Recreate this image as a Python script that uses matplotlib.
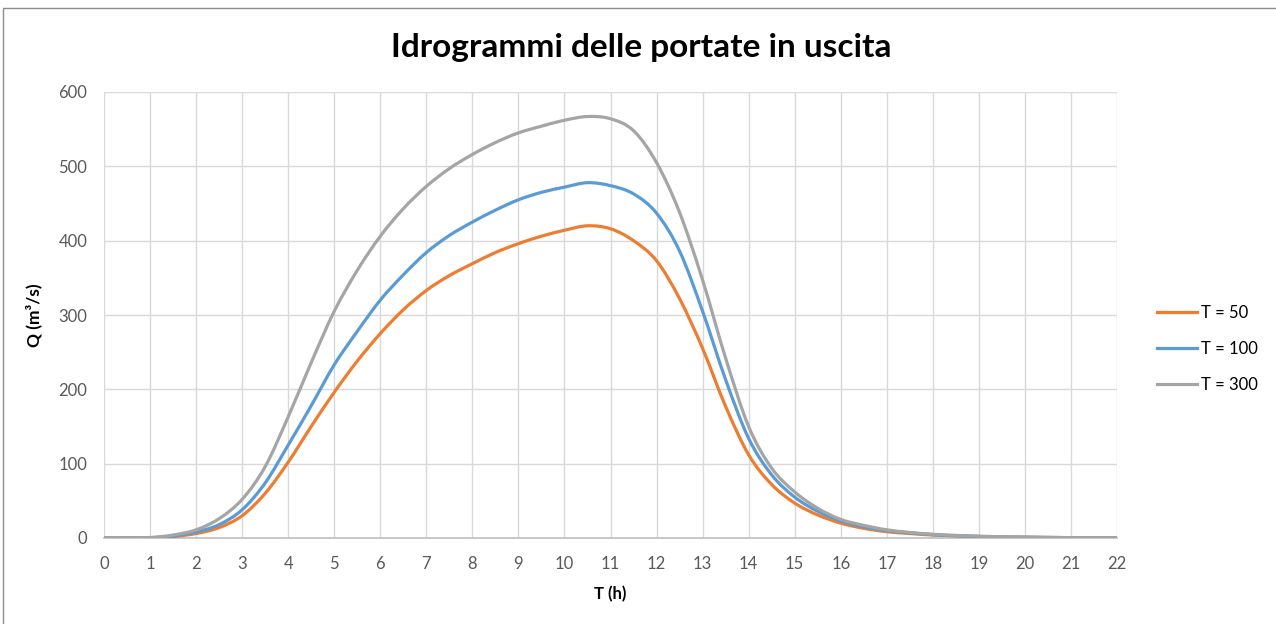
import numpy as np
import matplotlib
matplotlib.use("Agg")
import matplotlib.pyplot as plt
from matplotlib.path import Path
from matplotlib.patches import PathPatch, Rectangle
from matplotlib.lines import Line2D

plt.rcParams["font.family"] = ["Lato", "DejaVu Sans"]

# ore (passo mezz'ora)
t = [0, 0.5, 1, 1.5, 2, 2.5, 3, 3.5, 4, 4.5, 5, 5.5, 6, 6.5, 7, 7.5, 8, 8.5, 9, 9.5, 10, 10.5,
     11, 11.5, 12, 12.5, 13, 13.5, 14, 14.5, 15, 15.5, 16, 16.5, 17, 17.5, 18, 18.5, 19, 19.5,
     20, 20.5, 21, 21.5, 22]
# portate (m3/s)
q50 = [0, 0, 0.3, 2, 6, 14, 30, 60, 102, 150, 196, 238, 275, 307, 333, 353, 369, 384, 396, 406,
       414, 420, 416, 400, 373, 322, 255, 177, 112, 72, 47, 31, 20, 13, 8.5, 6, 4, 3, 2, 1.4,
       1, 0.7, 0.5, 0.3, 0.2]
q100 = [0, 0, 0.4, 2.5, 8, 18, 38, 74, 125, 178, 233, 278, 320, 354, 384, 407, 425, 441, 455, 465,
        472, 478, 474, 463, 437, 386, 305, 213, 134, 85, 55, 36, 23, 15, 10, 7, 4.5, 3, 2, 1.5,
        1, 0.7, 0.5, 0.3, 0.2]
q300 = [0, 0, 0.6, 4, 11, 26, 52, 96, 163, 236, 305, 360, 406, 443, 473, 497, 516, 532, 545, 554,
        562, 567, 564, 548, 505, 438, 347, 242, 150, 94, 62, 40, 25, 17, 11, 7.5, 5, 3.5, 2.5, 1.7,
        1.2, 0.8, 0.5, 0.3, 0.2]

labels = ["T = 50", "T = 100", "T = 300"]
colors = ["#ED7D31", "#5B9BD5", "#A5A5A5"]


def smooth_path(x, y):
    # linea smussata stile Excel (bezier catmull-rom)
    p = np.column_stack([x, y]).astype(float)
    verts = [p[0]]
    codes = [Path.MOVETO]
    n = len(p)
    for i in range(n - 1):
        p0 = p[max(i - 1, 0)]
        p1 = p[i]
        p2 = p[i + 1]
        p3 = p[min(i + 2, n - 1)]
        c1 = p1 + (p2 - p0) / 6
        c2 = p2 - (p3 - p1) / 6
        verts += [c1, c2, p2]
        codes += [Path.CURVE4] * 3
    return Path(verts, codes)


fig = plt.figure(figsize=(12.76, 6.24), dpi=100)
ax = fig.add_axes([104 / 1276, 1 - 538 / 624, (1117 - 104) / 1276, (538 - 92) / 624])

for q, c in zip([q50, q100, q300], colors):
    ax.add_patch(PathPatch(smooth_path(t, q), fill=False, edgecolor=c, lw=2.3,
                           capstyle="round", joinstyle="round", zorder=3))

ax.set_xlim(0, 22)
ax.set_ylim(0, 600)
ax.set_xticks(range(0, 23))
ax.set_yticks(range(0, 601, 100))
ax.grid(True, color="#d9d9d9", lw=1)
ax.set_axisbelow(True)
for s in ["top", "right", "left"]:
    ax.spines[s].set_visible(False)
ax.spines["bottom"].set_color("#bfbfbf")
ax.spines["bottom"].set_linewidth(1.2)
ax.tick_params(length=0, labelsize=12, labelcolor="#595959")
ax.tick_params(axis="x", pad=13)
ax.tick_params(axis="y", pad=12)

ax.set_xlabel("T (h)", fontsize=12, fontweight="bold", labelpad=10)
ax.set_ylabel("Q (m³/s)", fontsize=12.5, fontweight="bold", labelpad=12)
fig.text(641 / 1276, 1 - 47 / 624, "Idrogrammi delle portate in uscita",
         fontsize=24, fontweight="bold", ha="center", va="center")

handles = [Line2D([], [], color=c, lw=2.3) for c in colors]
fig.legend(handles, labels, loc="center left", bbox_to_anchor=(1142 / 1276, 1 - 349 / 624),
           frameon=False, fontsize=12, handlelength=2.4, handletextpad=0.25, labelspacing=1.2)

fig.patches.append(Rectangle((3 / 1276, -0.05), 1.1, 1 - 8 / 624 + 0.05, transform=fig.transFigure,
                             fill=False, edgecolor="#8c8c8c", lw=1, clip_on=False))

fig.savefig("out.png", dpi=100)
